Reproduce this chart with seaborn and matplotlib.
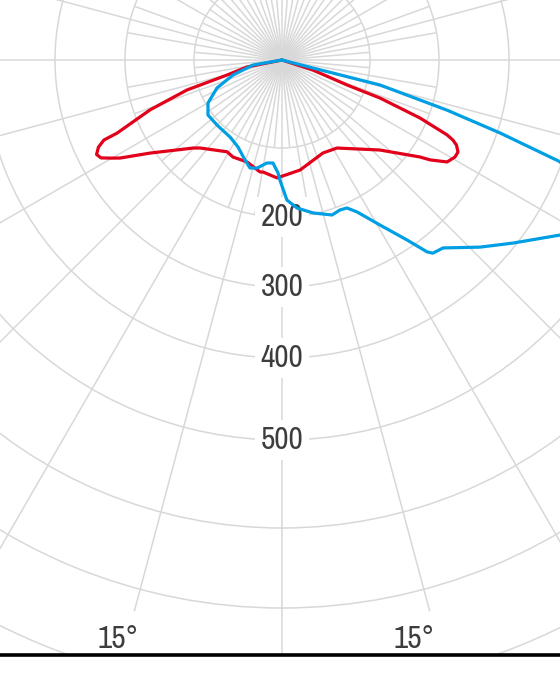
"""Polar luminous intensity diagram (two planes), cropped view around the lamp."""
import numpy as np
import matplotlib
matplotlib.use("Agg")
import matplotlib.pyplot as plt
from matplotlib import font_manager
from matplotlib.lines import Line2D
from matplotlib.patches import Rectangle
import seaborn as sns

# gamma angle in degrees (0 = nadir, positive = right side) and intensity in cd
RED_ANGLE = [-90, -78.7, -74.7, -72.5, -69.3, -66.1, -65.8, -64.6, -63.0, -61.6,
             -60.3, -58.8, -54.8, -45.3, -43.0, -30.9, -26.8, -18.9, -11.1, -9.6,
             -2.4, 9.3, 23.8, 32.0, 47.4, 54.9, 56.0, 58.3, 60.7, 62.4,
             64.0, 64.9, 65.6, 67.2, 68.8, 69.0, 72.0, 90]
RED_CD = [0, 40.6, 64.8, 116.8, 176.8, 233.4, 254.6, 266.0, 273.0, 269.7,
          258.6, 246.1, 206.4, 153.9, 146.8, 127.5, 130.0, 128.7, 137.8, 137.1,
          143.5, 134.1, 119.7, 122.9, 165.2, 216.7, 230.9, 252.9, 259.0, 259.4,
          253.0, 245.4, 234.6, 189.4, 124.6, 79.1, 37.0, 0]

BLUE_ANGLE = [-90, -80.2, -73.0, -66.7, -59.8, -53.4, -45.0, -34.0, -26.8, -20.3,
              -16.5, -13.0, -8.3, -5.0, -2.0, -1.0, 2.0, 5.8, 11.5, 17.9,
              21.1, 23.7, 26.3, 30.7, 34.8, 37.1, 38.0, 40.6, 46.6, 51.6,
              57.8, 61.0, 65.0, 69.9, 71.5, 73.1, 75.7, 75.5, 90]
BLUE_CD = [0, 33.4, 58.2, 80.5, 97.3, 106.1, 105.7, 107.1, 113.8, 127.0,
           135.7, 133.2, 123.3, 122.3, 136.4, 146.4, 175.5, 188.1, 198.7, 208.4,
           205.4, 206.6, 217.9, 249.9, 288.9, 319.2, 325.5, 328.9, 363.9, 395.4,
           437.2, 457.0, 451.0, 397.3, 304.1, 222.0, 119.0, 36.4, 0]

RING_VALUES = [100, 200, 300, 400, 500, 600, 700, 800]
LABELLED_RINGS = [200, 300, 400, 500]
ANGLE_LABEL = "15°"

# the diagram's radial scale is not evenly spaced: ring value -> radius in px
SCALE_CD = [0, 100, 200, 300, 400, 500, 600, 700, 800, 900, 5000]
SCALE_PX = [0, 88, 157, 227, 298, 380, 468, 548, 632, 716, 4716]

RED = "#e2001a"
BLUE = "#009fe3"
GRID = "#d8d8d8"
TEXT = "#3d3d3d"


def _forward(r):
    return np.interp(r, SCALE_CD, SCALE_PX)


def _inverse(p):
    return np.interp(p, SCALE_PX, SCALE_CD)


def _label_font(size):
    # the original uses a narrow sans; take any installed condensed face
    narrow = []
    for f in font_manager.fontManager.ttflist:
        is_narrow = ("Narrow" in f.name or "Condensed" in f.name
                     or f.stretch in ("condensed", "semi-condensed"))
        if is_narrow and f.style == "normal" and f.weight in (400, "normal", "regular"):
            if "Mono" not in f.name and "Serif" not in f.name:
                narrow.append(f)
    if narrow:
        narrow.sort(key=lambda f: (f.name != "Liberation Sans Narrow", f.name))
        return font_manager.FontProperties(fname=narrow[0].fname, size=size)
    return font_manager.FontProperties(family="Open Sans", size=size * 0.9)


sns.set_theme(style="white")
plt.rcParams["font.family"] = ["DejaVu Sans"]

W, H, DPI = 560, 700, 100
CX, CY = 282, 60          # lamp position in the picture (px from top-left)
R_AX = SCALE_PX[-2]       # radius of the axes circle in px

fig = plt.figure(figsize=(W / DPI, H / DPI), dpi=DPI)
fig.patch.set_facecolor("white")
ax = fig.add_axes([(CX - R_AX) / W, (H - CY - R_AX) / H, 2 * R_AX / W, 2 * R_AX / H],
                  projection="polar")
ax.set_theta_zero_location("S")
ax.set_theta_direction(1)
ax.set_rscale("function", functions=(_forward, _inverse))
ax.set_rlim(0, SCALE_CD[-2])
ax.spines["polar"].set_visible(False)
ax.set_facecolor("white")

# rings
ax.set_rgrids(RING_VALUES, labels=[""] * len(RING_VALUES))
ax.set_xticks([])
ax.yaxis.grid(True, color=GRID, linewidth=1.1)

# spokes: 5 deg near the lamp, 10 deg a bit further, 15 deg all the way out
angles, ends = [], []
for a in range(0, 360, 5):
    if a == 0:
        end = 756
    elif a % 15 == 0:
        end = 727
    elif a % 10 == 0:
        end = 200
    else:
        end = 100
    angles.append(np.deg2rad(a))
    ends.append(end)
ax.vlines(angles, 0, ends, colors=GRID, linewidth=1.1, zorder=1)

font = _label_font(22.5)
for value in LABELLED_RINGS:
    ax.text(0, value, str(value), ha="center", va="center", color=TEXT,
            fontproperties=font, zorder=3,
            bbox=dict(facecolor="white", edgecolor="none", pad=4))
ax.text(np.deg2rad(-15.8), 764, ANGLE_LABEL, ha="center", va="center",
        color=TEXT, fontproperties=font, zorder=3)
ax.text(np.deg2rad(12.8), 755, ANGLE_LABEL, ha="center", va="center",
        color=TEXT, fontproperties=font, zorder=3)

sns.lineplot(x=np.deg2rad(RED_ANGLE), y=RED_CD, sort=False, estimator=None,
             color=RED, linewidth=2.3, ax=ax, zorder=5)
sns.lineplot(x=np.deg2rad(BLUE_ANGLE), y=BLUE_CD, sort=False, estimator=None,
             color=BLUE, linewidth=2.3, ax=ax, zorder=6)
for line in ax.lines:
    line.set_solid_joinstyle("round")
ax.set_rlim(0, SCALE_CD[-2])
ax.set_xlabel("")
ax.set_ylabel("")

# page rule below the diagram
y_rule = 1 - 655 / H
fig.add_artist(Rectangle((0, 0), 1, y_rule, transform=fig.transFigure,
                         facecolor="white", edgecolor="none", zorder=9))
fig.add_artist(Line2D([0, 1], [y_rule, y_rule], transform=fig.transFigure,
                      color="black", linewidth=2.6, zorder=10))

fig.savefig("out.png", dpi=DPI)
